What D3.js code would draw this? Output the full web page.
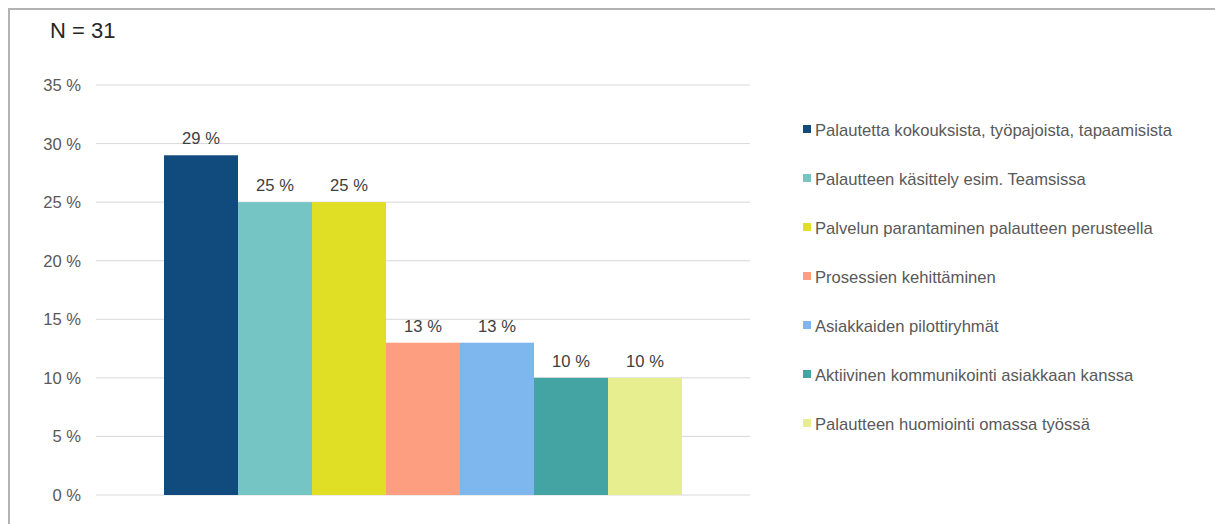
<!DOCTYPE html>
<html>
<head>
<meta charset="utf-8">
<script src="https://cdn.jsdelivr.net/npm/d3@7"></script>
<style>
  html, body { margin: 0; padding: 0; background: #fff; }
  svg { display: block; font-family: "Liberation Sans", Arial, sans-serif; }
</style>
</head>
<body>
<div id="chart"></div>
<script>
// data
const categories = [
  "Palautetta kokouksista, työpajoista, tapaamisista",
  "Palautteen käsittely esim. Teamsissa",
  "Palvelun parantaminen palautteen perusteella",
  "Prosessien kehittäminen",
  "Asiakkaiden pilottiryhmät",
  "Aktiivinen kommunikointi asiakkaan kanssa",
  "Palautteen huomiointi omassa työssä"
];
const values = [29, 25, 25, 13, 13, 10, 10];
const colors = ["#114a7c", "#75c5c4", "#e0de25", "#fe9e80", "#7eb6ee", "#44a3a3", "#e7ee8f"];
const yTicks = [0, 5, 10, 15, 20, 25, 30, 35];
const title = "N = 31";

const width = 1215, height = 524;
const fs = "16.6px";

const svg = d3.select("#chart").append("svg")
  .attr("width", width)
  .attr("height", height);

// outer frame (top + left only visible)
svg.append("path")
  .attr("d", `M9,${height} L9,9 L${width},9`)
  .attr("fill", "none")
  .attr("stroke", "#b3b3b3")
  .attr("stroke-width", 2);

svg.append("text")
  .attr("x", 50)
  .attr("y", 38)
  .style("font-size", "22px")
  .style("fill", "#262626")
  .text(title);

const y = d3.scaleLinear().domain([0, 35]).range([495, 85]);
const x = d3.scaleBand().domain(categories).range([164, 682]).padding(0);

// gridlines
svg.append("g")
  .selectAll("line")
  .data(yTicks)
  .join("line")
    .attr("x1", 96)
    .attr("x2", 750)
    .attr("y1", d => y(d))
    .attr("y2", d => y(d))
    .attr("stroke", "#d9d9d9")
    .attr("stroke-width", 1);

// y axis labels
svg.append("g")
  .selectAll("text")
  .data(yTicks)
  .join("text")
    .attr("x", 81)
    .attr("y", d => y(d) + 6)
    .attr("text-anchor", "end")
    .style("font-size", fs)
    .style("fill", "#595959")
    .text(d => `${d} %`);

// bars
svg.append("g")
  .selectAll("rect")
  .data(values)
  .join("rect")
    .attr("x", (d, i) => x(categories[i]))
    .attr("y", d => y(d))
    .attr("width", x.bandwidth())
    .attr("height", d => y(0) - y(d))
    .attr("fill", (d, i) => colors[i]);

// value labels
svg.append("g")
  .selectAll("text")
  .data(values)
  .join("text")
    .attr("x", (d, i) => x(categories[i]) + x.bandwidth() / 2)
    .attr("y", d => y(d) - 11)
    .attr("text-anchor", "middle")
    .style("font-size", fs)
    .style("fill", "#404040")
    .text(d => `${d} %`);

// legend
const legend = svg.append("g")
  .selectAll("g")
  .data(categories)
  .join("g")
    .attr("transform", (d, i) => `translate(803,${129 + i * 49})`);

legend.append("rect")
  .attr("x", 0)
  .attr("y", -4)
  .attr("width", 8)
  .attr("height", 8)
  .attr("fill", (d, i) => colors[i]);

legend.append("text")
  .attr("x", 12)
  .attr("y", 7)
  .style("font-size", fs)
  .style("fill", "#595959")
  .text(d => d);
</script>
</body>
</html>
